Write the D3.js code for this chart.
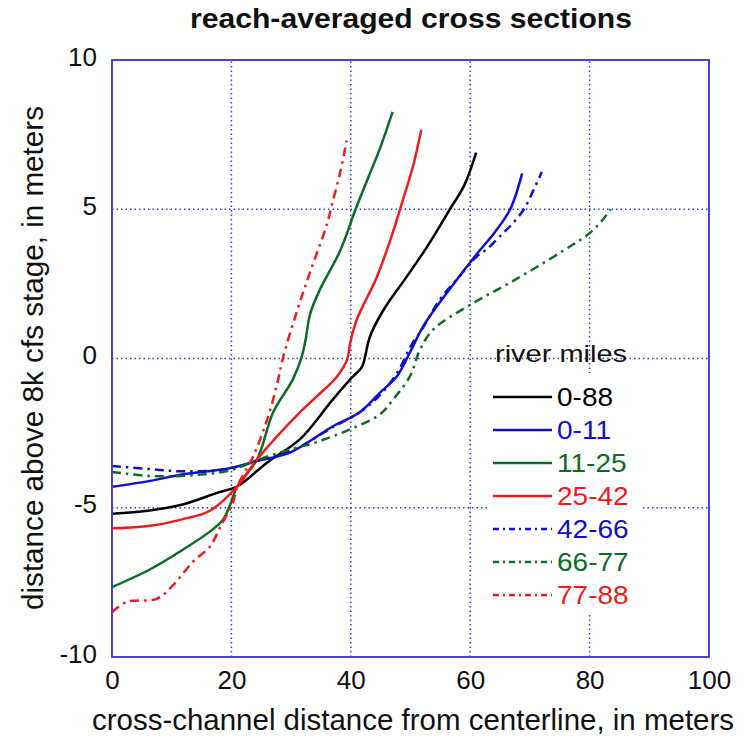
<!DOCTYPE html>
<html>
<head>
<meta charset="utf-8">
<script src="https://cdn.jsdelivr.net/npm/d3@7"></script>
<style>
  body { margin: 0; background: #fff; }
  text { font-family: "Liberation Sans", Arial, sans-serif; }
</style>
</head>
<body>
<script>
// river-mile reaches, in legend order
var reaches = ["0-88", "0-11", "11-25", "25-42", "42-66", "66-77", "77-88"];
var colors  = ["#000000", "#1010cc", "#0c6b26", "#ee1c1c", "#1010cc", "#0c6b26", "#ee1c1c"];
var dashed  = [false, false, false, false, true, true, true];

// [cross-channel distance (m), height above 8k cfs stage (m)]
var s0_88 = [[0,-5.2],[6,-5.1],[12,-4.88],[17.6,-4.5],[21,-4.28],[26,-3.48],[31.5,-2.7],[37,-1.37],
  [39.9,-0.7],[41.9,-0.27],[42.4,0.07],[43.2,0.73],[45.4,1.6],[49.4,2.75],[52.8,3.75],[56.6,5.0],[59,5.8],[61,6.9]];
var s0_11 = [[0,-4.3],[6.4,-4.1],[11.9,-3.88],[19.7,-3.68],[24.3,-3.43],[29.8,-3.15],[37,-2.27],[41.5,-1.8],
  [44.9,-1.14],[47.7,-0.6],[49.9,0.2],[52.1,1.07],[56.1,2.2],[61.1,3.5],[64,4.2],[66.7,5.0],[68.7,6.2]];
var s11_25 = [[0,-7.66],[6.4,-7.06],[11.9,-6.4],[16.4,-5.8],[18.6,-5.4],[19.7,-4.95],[21,-4.28],[24.3,-3.38],
  [27,-1.8],[30.3,-0.7],[31.8,0.07],[32.4,0.6],[33.2,1.5],[34.8,2.3],[38.2,3.6],[40.8,5.0],[43,6.1],[45,7.1],[47,8.26]];
var s25_42 = [[0,-5.69],[6.4,-5.6],[11.9,-5.38],[16.4,-5.1],[21,-4.28],[24.3,-3.38],[31.5,-1.8],[34.3,-1.27],
  [37.7,-0.6],[39.4,-0.03],[39.9,0.53],[41,1.3],[44.4,2.75],[47,4.2],[48.7,5.3],[50.5,6.5],[51.8,7.66]];
var s42_66 = [[0,-3.6],[6,-3.7],[12,-3.78],[19.7,-3.7],[24.3,-3.43],[30,-3.1],[37,-2.3],[41.5,-1.8],[45,-1.2],
  [48,-0.4],[50,0.4],[52,1.0],[55,2.0],[58,2.7],[61,3.4],[63,3.7],[65.5,4.2],[67,4.5],[69,5.0],[70.5,5.6],[72,6.25]];
var s66_77 = [[0,-3.8],[6,-3.93],[12,-3.93],[19.7,-3.75],[24.3,-3.4],[29.8,-3.05],[34.3,-2.8],[39.9,-2.37],
  [44.9,-1.87],[47.1,-1.37],[49.9,-0.6],[51.6,0.3],[53.8,0.97],[60,1.8],[67.2,2.6],[75.5,3.6],[80,4.2],[82.2,4.65],[83.5,5.0]];
var s77_88 = [[0,-8.5],[2.5,-8.15],[7.5,-8.05],[10.2,-7.6],[13.6,-6.8],[16.4,-6.3],[18,-5.7],[20.3,-4.8],[21,-4.28],
  [23.6,-3.3],[26,-2.04],[27.6,-0.9],[28.7,0.07],[31,1.6],[33.2,2.9],[36,4.5],[36.9,5.2],[38.3,6.3],[39.3,7.3]];
var series = [s0_88, s0_11, s11_25, s25_42, s42_66, s66_77, s77_88];

var xTicks = [0, 20, 40, 60, 80, 100];
var yTicks = [-10, -5, 0, 5, 10];

var W = 752, H = 736;
var m = { left: 112, right: 43, top: 60, bottom: 79 };
var dash = "9,5,2.5,5";

var svg = d3.select("body").append("svg")
  .attr("width", W)
  .attr("height", H);

var x = d3.scaleLinear().domain([0, 100]).range([m.left, W - m.right]);
var y = d3.scaleLinear().domain([-10, 10]).range([H - m.bottom, m.top]);

// squeeze/stretch a text node to a given width
function fit(sel, w) {
  sel.attr("textLength", w).attr("lengthAdjust", "spacingAndGlyphs");
}

// dotted grid
svg.selectAll("line.gx")
  .data(xTicks.slice(1, -1))
  .enter().append("line")
  .attr("x1", function(d) { return x(d); })
  .attr("x2", function(d) { return x(d); })
  .attr("y1", y(-10)).attr("y2", y(10))
  .attr("stroke", "#3a3ac0")
  .attr("stroke-width", 1.5)
  .attr("stroke-dasharray", "1.5,3");
svg.selectAll("line.gy")
  .data(yTicks.slice(1, -1))
  .enter().append("line")
  .attr("y1", function(d) { return y(d); })
  .attr("y2", function(d) { return y(d); })
  .attr("x1", x(0)).attr("x2", x(100))
  .attr("stroke", "#3a3ac0")
  .attr("stroke-width", 1.5)
  .attr("stroke-dasharray", "1.5,3");

// curves
var line = d3.line()
  .x(function(d) { return x(d[0]); })
  .y(function(d) { return y(d[1]); })
  .curve(d3.curveCatmullRom);

svg.selectAll("path.reach")
  .data(series)
  .enter().append("path")
  .attr("d", line)
  .attr("fill", "none")
  .attr("stroke", function(d, i) { return colors[i]; })
  .attr("stroke-width", 2.5)
  .attr("stroke-dasharray", function(d, i) { return dashed[i] ? dash : null; });

// frame
svg.append("rect")
  .attr("x", x(0)).attr("y", y(10))
  .attr("width", x(100) - x(0))
  .attr("height", y(-10) - y(10))
  .attr("fill", "none")
  .attr("stroke", "#4646c8")
  .attr("stroke-width", 2);

// tick labels (plain hyphen for negatives, as in the original)
var fmt = function(d) { return String(d); };
var xAxis = svg.append("g")
  .attr("transform", "translate(0," + y(-10) + ")")
  .call(d3.axisBottom(x).tickValues(xTicks).tickFormat(fmt).tickSize(0).tickPadding(13));
var yAxis = svg.append("g")
  .attr("transform", "translate(" + x(0) + ",0)")
  .call(d3.axisLeft(y).tickValues(yTicks).tickFormat(fmt).tickSize(0).tickPadding(15));
[xAxis, yAxis].forEach(function(g) {
  g.select(".domain").remove();
  g.selectAll("text")
    .attr("font-family", "Liberation Sans, Arial, sans-serif")
    .attr("font-size", 26)
    .attr("fill", "#111");
});
xAxis.selectAll("text").attr("dy", "0.72em");
yAxis.selectAll("text").attr("dy", "0.2em");

// titles
svg.append("text")
  .attr("x", 411).attr("y", 28)
  .attr("text-anchor", "middle")
  .attr("font-size", 27)
  .attr("font-weight", "bold")
  .attr("fill", "#111")
  .text("reach-averaged cross sections")
  .call(fit, 442);

svg.append("text")
  .attr("x", 413).attr("y", 730)
  .attr("text-anchor", "middle")
  .attr("font-size", 29)
  .attr("fill", "#111")
  .text("cross-channel distance from centerline, in meters")
  .call(fit, 642);

svg.append("text")
  .attr("transform", "translate(43,358) rotate(-90)")
  .attr("text-anchor", "middle")
  .attr("font-size", 29)
  .attr("fill", "#111")
  .text("distance above 8k cfs stage, in meters")
  .call(fit, 504);

// legend
var lg = svg.append("g");
lg.append("rect")
  .attr("x", 488).attr("y", 373)
  .attr("width", 154).attr("height", 242)
  .attr("fill", "#fff");
lg.append("text")
  .attr("x", 495).attr("y", 362)
  .attr("font-size", 24)
  .attr("fill", "#111")
  .text("river miles")
  .call(fit, 132);

var rows = lg.selectAll("g.row")
  .data(reaches)
  .enter().append("g")
  .attr("transform", function(d, i) { return "translate(0," + (397 + i * 33) + ")"; });
rows.append("line")
  .attr("x1", 493).attr("x2", 552)
  .attr("stroke", function(d, i) { return colors[i]; })
  .attr("stroke-width", 2.5)
  .attr("stroke-dasharray", function(d, i) { return dashed[i] ? "6,4,2,4" : null; });
rows.append("text")
  .attr("x", 557).attr("dy", "0.36em")
  .attr("font-size", 25)
  .attr("fill", function(d, i) { return colors[i]; })
  .text(function(d) { return d; })
  .each(function() {
    var t = d3.select(this);
    t.call(fit, this.getComputedTextLength() * 1.12);
  });
</script>
</body>
</html>
